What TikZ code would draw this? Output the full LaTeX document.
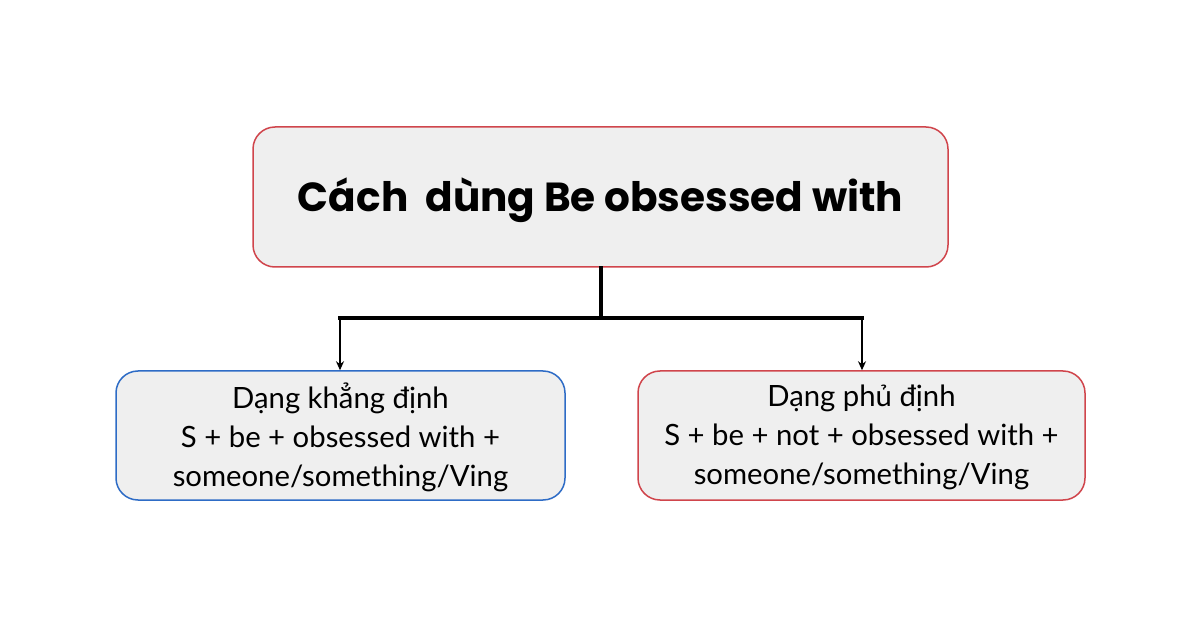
\documentclass[tikz,border=0pt]{standalone}
\usepackage{fontspec}
\usetikzlibrary{arrows.meta}
\setmainfont{Lato}
\newfontfamily\titlefont{Poppins}[UprightFont=* Bold]
\begin{document}
\begin{tikzpicture}[x=1pt,y=-1pt,
  box/.style={draw, rounded corners=22pt, fill=boxgray, line width=1.5pt, align=center, inner sep=0pt},
  conn/.style={line width=3.2pt, line cap=rect},
  arr/.style={line width=2pt, -{Stealth[length=9pt,width=8pt]}}]
\definecolor{boxgray}{HTML}{EFEFEF}
\definecolor{bred}{HTML}{D0454C}
\definecolor{bblue}{HTML}{2E6CC6}
\useasboundingbox[fill=white] (0,0) rectangle (1200,628);
\node[box, draw=bred, minimum width=695pt, minimum height=140pt] (top) at (600.5,197) {};
\node[font=\titlefont\fontsize{40.6}{46}\selectfont, inner sep=0pt] (title) at (600.5,200)
  {Cách\ \ dùng Be obsessed with};
\node[box, draw=bblue, minimum width=449pt, minimum height=129pt] (left) at (340.5,435.5) {};
\node[font=\fontsize{29.3}{39}\selectfont, align=center, inner sep=0pt] (lefttext) at (340.5,437.5)
  {Dạng khẳng định\\S + be + obsessed with +\\someone/something/Ving};
\node[box, draw=bred, minimum width=447pt, minimum height=129pt] (right) at (861.5,435.5) {};
\node[font=\fontsize{29.3}{39}\selectfont, align=center, inner sep=0pt] (righttext) at (861.5,437.5)
  {Dạng phủ định\\S + be + not + obsessed with +\\someone/something/Ving};
\coordinate (j) at (601,318);
\coordinate (jl) at (340,318);
\coordinate (jr) at (862,318);
\draw[conn] (top.south -| j) -- (j);
\draw[conn] (jl) -- (jr);
\draw[arr] (jl) -- (jl |- left.north);
\draw[arr] (jr) -- (jr |- right.north);
\end{tikzpicture}
\end{document}
